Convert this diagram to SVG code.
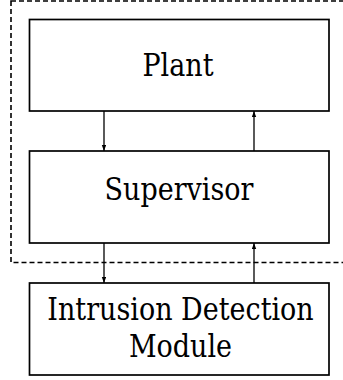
<svg xmlns="http://www.w3.org/2000/svg" width="343" height="380" viewBox="0 0 343 380">
<style>
.box{fill:#fff;stroke:#000;stroke-width:1.7}
.lbl{font-family:'DejaVu Serif','Liberation Serif',serif;font-size:27px;fill:#000;text-anchor:middle}
.conn{stroke:#000;stroke-width:1.3;fill:none;marker-end:url(#ah)}
</style>
<defs>
<marker id="ah" markerWidth="8" markerHeight="8" refX="6" refY="2.2" orient="auto" markerUnits="userSpaceOnUse">
<path d="M0,0 L6,2.2 L0,4.4 Z" fill="#000"/>
</marker>
</defs>
<rect id="boundary" x="11" y="1" width="345" height="261.5" fill="none" stroke="#000" stroke-width="1.6" stroke-dasharray="5,3"/>
<g id="plant">
<rect class="box" x="29.5" y="19.5" width="299.5" height="91.5"/>
<text class="lbl" transform="translate(178,75.5) scale(1,1.15)">Plant</text>
</g>
<g id="supervisor">
<rect class="box" x="29.5" y="151" width="299.5" height="92"/>
<text class="lbl" transform="translate(179,200) scale(1,1.15)">Supervisor</text>
</g>
<g id="idm">
<rect class="box" x="29.5" y="283" width="299.5" height="92"/>
<text class="lbl" transform="translate(180.5,319.5) scale(1,1.15)">Intrusion Detection</text>
<text class="lbl" transform="translate(180.5,356.5) scale(1,1.15)">Module</text>
</g>
<g id="connectors">
<line class="conn" x1="104" y1="111" x2="104" y2="151"/>
<line class="conn" x1="254" y1="151" x2="254" y2="111"/>
<line class="conn" x1="104" y1="243" x2="104" y2="283"/>
<line class="conn" x1="254" y1="283" x2="254" y2="243"/>
</g>
</svg>
